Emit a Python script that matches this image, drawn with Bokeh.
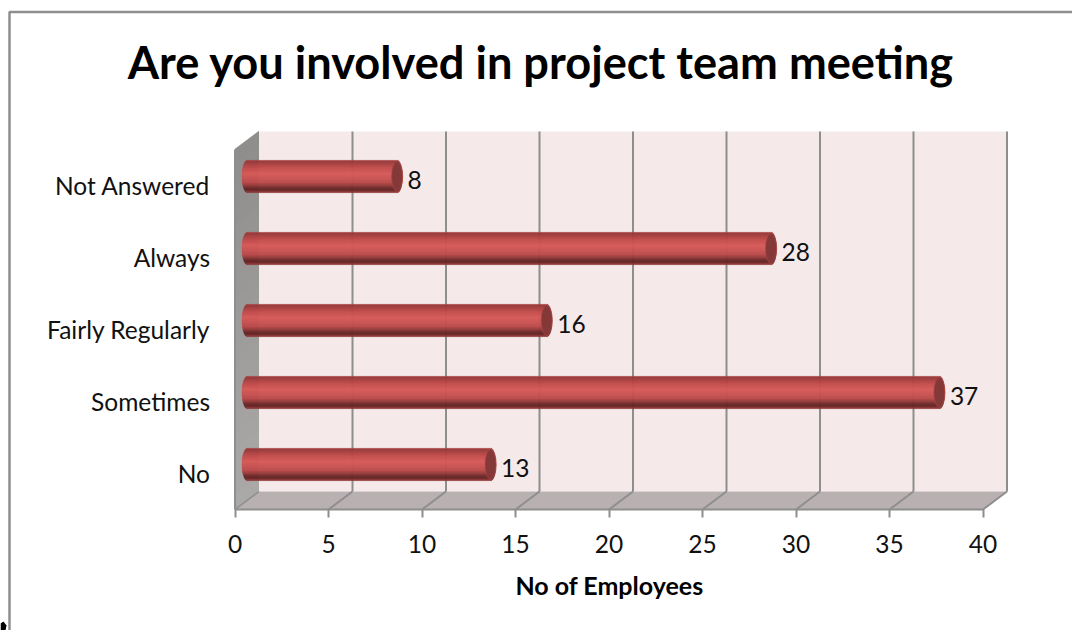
import numpy as np
from bokeh.core.properties import value
from bokeh.embed import file_html
from bokeh.models import ColumnDataSource, FixedTicker, Label, Range1d
from bokeh.plotting import figure
from bokeh.resources import INLINE

categories = ["No", "Sometimes", "Fairly Regularly", "Always", "Not Answered"]
employees = [13, 37, 16, 28, 8]
x_ticks = [0, 5, 10, 15, 20, 25, 30, 35, 40]
title_text = "Are you involved in project team meeting"
x_label = "No of Employees"

FONT = "Lato"
GREY = "#8e8e8e"
PXX = 18.7   # pixels per x unit
PXY = 72.0   # pixels per category
W, H = 1072, 630
X0, Y0 = 234.5, 509           # pixel position of the origin
DX, DY = 24 / PXX, 18 / PXY   # depth of the 3-D box in data units
BX, BY = 12.5 / PXX, 9 / PXY  # bars sit half way in the box

def sx(px):
    return (px - X0) / PXX

def sy(py):
    return (Y0 - py) / PXY

p = figure(width=W, height=H, output_backend="svg", toolbar_location=None,
           x_range=Range1d(sx(0), sx(W)), y_range=Range1d(sy(H), sy(0)),
           min_border=0, outline_line_color=None, background_fill_color="white", title=None)
p.grid.visible = False

xmax = x_ticks[-1]
ytop = len(categories)

# outer chart border and the stray mark in the corner of the picture
p.line([sx(9), sx(9), sx(W)], [sy(H), sy(11.5), sy(11.5)], line_color=GREY, line_width=2.5)
p.patch([sx(0), sx(3), sx(6), sx(5), sx(0)], [sy(623), sy(621), sy(625), sy(630), sy(630)],
        fill_color="#000000", fill_alpha=1, line_color=None)

# back wall, floor and left wall of the 3-D box
p.patch([DX, xmax + DX, xmax + DX, DX], [DY, DY, ytop + DY, ytop + DY],
        fill_color="#f5e9e9", fill_alpha=1, line_color=None)
p.patch([0, DX, xmax + DX, xmax], [0, DY, DY, 0], fill_color="#b9b1b1", fill_alpha=1, line_color=None)
n_wall = 24
for i in range(n_wall):
    f0, f1 = i / n_wall, (i + 1.05) / n_wall
    c = int(0xab + (0x8f - 0xab) * f0)
    p.patch([0, DX, DX, 0], [ytop * f0, DY + ytop * f0, DY + ytop * f1, ytop * f1],
            fill_color="#%02x%02x%02x" % (c, c - 3, c - 3), fill_alpha=1, line_color=None)

tv = np.array(x_ticks[1:], dtype=float)
p.segment(tv + DX, DY, tv + DX, ytop + DY, line_color=GREY, line_width=2)
p.segment(tv, 0, tv + DX, DY, line_color=GREY, line_width=2)
p.line([0, DX], [0, DY], line_color=GREY, line_width=1.5)
p.line([0, 0], [0, ytop], line_color=GREY, line_width=2)

# cylinders: thin stacked strips give the shading
stops_t = [0.0, 0.05, 0.22, 0.42, 0.70, 0.90, 0.97, 1.0]
stops_r = [0xb0, 0x98, 0xc0, 0xd8, 0xbc, 0x64, 0x70, 0xb0]
stops_g = [0x44, 0x3a, 0x4b, 0x5b, 0x4c, 0x26, 0x2a, 0x42]
stops_b = [0x44, 0x3a, 0x4b, 0x59, 0x4c, 0x26, 0x2a, 0x42]
n = 32
rows = {"y": [], "left": [], "right": [], "color": []}
for k, v in enumerate(employees):
    for i in range(n):
        u = (i + 0.5) / n            # 0 at the top edge, 1 at the bottom edge
        t = 2 * u - 1
        e = 5.5 * np.sqrt(1 - t * t) / PXX
        rows["y"].append(k + 0.5 + BY + (0.5 - u) * n / PXY)
        rows["left"].append(BX - e)
        rows["right"].append(v + BX + e)
        rows["color"].append("#%02x%02x%02x" % (int(np.interp(u, stops_t, stops_r)),
                                                int(np.interp(u, stops_t, stops_g)),
                                                int(np.interp(u, stops_t, stops_b))))
p.hbar(y="y", left="left", right="right", height=1.3 / PXY, fill_color="color",
       fill_alpha=1, line_color="color", line_width=0.3, source=ColumnDataSource(rows))

ys = np.arange(len(categories)) + 0.5
vals = np.array(employees, dtype=float)
p.ellipse(x=vals + BX, y=ys + BY, width=11 / PXX, height=30 / PXY,
          fill_color="#853838", fill_alpha=1, line_color="#a84444", line_width=0.7)
p.text(x=vals, y=ys + BY, text=[str(v) for v in employees], x_offset=23, y_offset=3.5,
       text_font=value(FONT), text_font_size="24.5px", text_color="#111111",
       text_align="left", text_baseline="middle")

# real axes, pinned to the origin of the box
ax = p.xaxis[0]
ax.fixed_location = 0
ax.ticker = FixedTicker(ticks=x_ticks)
ax.bounds = (0, xmax)
ax.axis_line_color = GREY
ax.axis_line_width = 2
ax.major_tick_line_color = GREY
ax.major_tick_line_width = 2
ax.major_tick_out = 8
ax.major_tick_in = 0
ax.minor_tick_line_color = None
ax.major_label_text_font = FONT
ax.major_label_text_font_size = "24.5px"
ax.major_label_text_color = "#111111"
ax.major_label_standoff = 17
ax.axis_label = x_label
ax.axis_label_text_font = FONT
ax.axis_label_text_font_size = "25px"
ax.axis_label_text_font_style = "bold"
ax.axis_label_text_color = "#000000"
ax.axis_label_standoff = 14

ay = p.yaxis[0]
ay.fixed_location = 0
ay.ticker = FixedTicker(ticks=list(ys))
ay.major_label_overrides = {float(y): c for y, c in zip(ys, categories)}
ay.axis_line_color = None
ay.major_tick_line_color = None
ay.minor_tick_line_color = None
ay.major_label_text_font = FONT
ay.major_label_text_font_size = "24.5px"
ay.major_label_text_color = "#111111"
ay.major_label_standoff = 19

p.add_layout(Label(x=sx(540.5), y=sy(61), text=title_text, text_align="center", text_baseline="middle",
                   text_font=FONT, text_font_size="45.2px", text_font_style="bold", text_color="#000000"))

open("out.html", "w").write(file_html(p, INLINE))
